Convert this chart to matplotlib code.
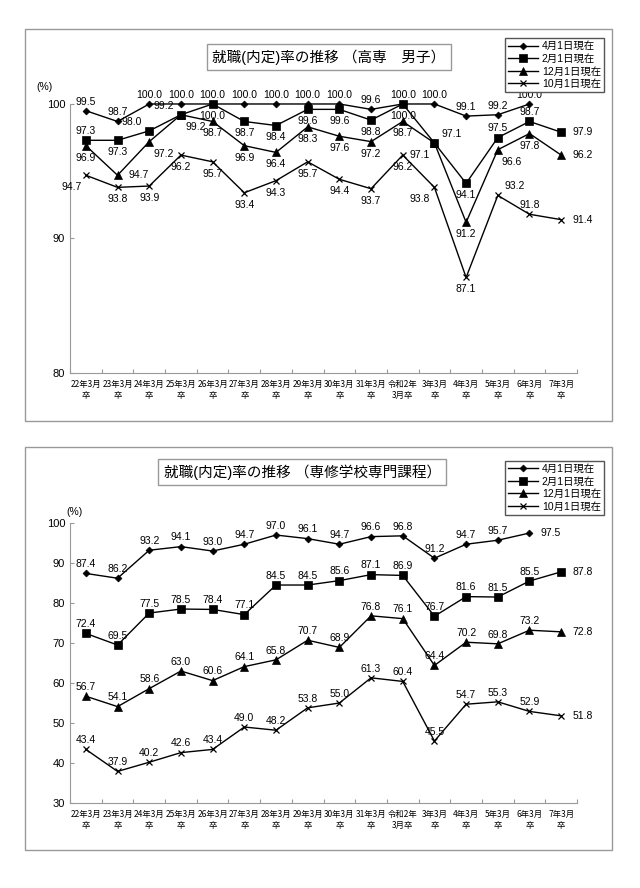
import matplotlib
matplotlib.use('Agg')
import matplotlib.pyplot as plt
from matplotlib.patches import Rectangle
import numpy as np

plt.rcParams['font.family'] = ['Liberation Sans', 'Noto Sans CJK JP', 'DejaVu Sans']

# ---- data ----
categories = ['22年3月\n卒', '23年3月\n卒', '24年3月\n卒', '25年3月\n卒', '26年3月\n卒',
              '27年3月\n卒', '28年3月\n卒', '29年3月\n卒', '30年3月\n卒', '31年3月\n卒',
              '令和2年\n3月卒', '3年3月\n卒', '4年3月\n卒', '5年3月\n卒', '6年3月\n卒', '7年3月\n卒']
series_names = ['4月1日現在', '2月1日現在', '12月1日現在', '10月1日現在']

kosen_apr = [99.5, 98.7, 100.0, 100.0, 100.0, 100.0, 100.0, 100.0, 100.0, 99.6, 100.0, 100.0, 99.1, 99.2, 100.0]
kosen_feb = [97.3, 97.3, 98.0, 99.2, 100.0, 98.7, 98.4, 99.6, 99.6, 98.8, 100.0, 97.1, 94.1, 97.5, 98.7, 97.9]
kosen_dec = [96.9, 94.7, 97.2, 99.2, 98.7, 96.9, 96.4, 98.3, 97.6, 97.2, 98.7, 97.1, 91.2, 96.6, 97.8, 96.2]
kosen_oct = [94.7, 93.8, 93.9, 96.2, 95.7, 93.4, 94.3, 95.7, 94.4, 93.7, 96.2, 93.8, 87.1, 93.2, 91.8, 91.4]

senmon_apr = [87.4, 86.2, 93.2, 94.1, 93.0, 94.7, 97.0, 96.1, 94.7, 96.6, 96.8, 91.2, 94.7, 95.7, 97.5]
senmon_feb = [72.4, 69.5, 77.5, 78.5, 78.4, 77.1, 84.5, 84.5, 85.6, 87.1, 86.9, 76.7, 81.6, 81.5, 85.5, 87.8]
senmon_dec = [56.7, 54.1, 58.6, 63.0, 60.6, 64.1, 65.8, 70.7, 68.9, 76.8, 76.1, 64.4, 70.2, 69.8, 73.2, 72.8]
senmon_oct = [43.4, 37.9, 40.2, 42.6, 43.4, 49.0, 48.2, 53.8, 55.0, 61.3, 60.4, 45.5, 54.7, 55.3, 52.9, 51.8]

# label placement codes per point (a=above, b=below, r=right, l=left, combos)
kosen_pos = [
    ['a'] * 15,
    ['a', 'b', 'al', 'al', 'b', 'b', 'b', 'b', 'b', 'b', 'b', 'ar', 'b', 'a', 'a', 'r'],
    ['b', 'r', 'br', 'br', 'b', 'b', 'b', 'b', 'b', 'b', 'b', 'bl', 'b', 'br', 'b', 'r'],
    ['bl', 'b', 'b', 'b', 'b', 'b', 'b', 'b', 'b', 'b', 'b', 'bl', 'b', 'ar', 'a', 'r'],
]
senmon_pos = [
    ['a'] * 14 + ['r'],
    ['a'] * 15 + ['r'],
    ['a'] * 15 + ['r'],
    ['a'] * 15 + ['r'],
]

markers = ['D', 's', '^', 'x']
msizes = [3.5, 6, 6, 5]

offsets = {
    'a': (0, 3, 'center', 'bottom'),
    'b': (0, -5, 'center', 'top'),
    'r': (8, 0, 'left', 'center'),
    'l': (-8, 0, 'right', 'center'),
    'al': (-5, 3, 'right', 'bottom'),
    'ar': (5, 3, 'left', 'bottom'),
    'bl': (-3, -5, 'right', 'top'),
    'br': (3, -5, 'left', 'top'),
}

fig = plt.figure(figsize=(6.4, 8.88), dpi=100)
grey = '#999999'

# outer frames
fig.add_artist(Rectangle((0.039, 0.526), 0.917, 0.441, transform=fig.transFigure,
                         fill=False, ec=grey, lw=1))
fig.add_artist(Rectangle((0.039, 0.043), 0.917, 0.454, transform=fig.transFigure,
                         fill=False, ec=grey, lw=1))


def draw(ax, data, pos, ylim, yticks):
    x = np.arange(len(categories))
    handles = []
    for vals, p, m, ms, name in zip(data, pos, markers, msizes, series_names):
        xs = x[:len(vals)]
        h, = ax.plot(xs, vals, color='black', lw=1, marker=m, markersize=ms,
                     mew=0.9 if m == 'x' else 0.5, clip_on=False, label=name)
        handles.append(h)
        for xi, v, code in zip(xs, vals, p):
            dx, dy, ha, va = offsets[code]
            ax.annotate(f'{v:.1f}', (xi, v), xytext=(dx, dy), textcoords='offset points',
                        ha=ha, va=va, fontsize=7.5)
    ax.set_xlim(-0.5, len(categories) - 0.5)
    ax.set_ylim(*ylim)
    ax.set_yticks(yticks)
    ax.tick_params('y', direction='in', length=3, labelsize=8, color=grey)
    ax.set_xticks(np.arange(-0.5, len(categories), 1))
    ax.set_xticklabels([])
    ax.tick_params('x', which='major', direction='in', length=3, color=grey)
    ax.set_xticks(x, minor=True)
    ax.set_xticklabels(categories, minor=True, fontsize=6, linespacing=1.3,
                       family=['Noto Sans CJK JP', 'DejaVu Sans'])
    ax.tick_params('x', which='minor', length=0, pad=5)
    for s in ['top', 'right']:
        ax.spines[s].set_visible(False)
    for s in ['left', 'bottom']:
        ax.spines[s].set_color(grey)
    return handles


# top chart
ax1 = fig.add_axes([0.1094, 0.580, 0.7922, 0.3029])
h1 = draw(ax1, [kosen_apr, kosen_feb, kosen_dec, kosen_oct], kosen_pos, (80, 100), [80, 90, 100])
fig.text(0.514, 0.936, '就職(内定)率の推移 （高専　男子）', ha='center', va='center', fontsize=10.5,
         bbox=dict(boxstyle='square,pad=0.35', fc='white', ec=grey, lw=1))
fig.text(0.07, 0.902, '(%)', ha='center', va='center', fontsize=7.5)
fig.legend(handles=h1, loc='upper right', bbox_to_anchor=(0.952, 0.963), fontsize=7.5,
           fancybox=False, edgecolor='#555555', framealpha=1, borderpad=0.3,
           labelspacing=0.25, handlelength=2.8, handletextpad=0.4)

# bottom chart
ax2 = fig.add_axes([0.1094, 0.0957, 0.7922, 0.3153])
h2 = draw(ax2, [senmon_apr, senmon_feb, senmon_dec, senmon_oct], senmon_pos, (30, 100),
          np.arange(30, 101, 10))
fig.text(0.472, 0.4685, '就職(内定)率の推移 （専修学校専門課程）', ha='center', va='center', fontsize=10.5,
         bbox=dict(boxstyle='square,pad=0.35', fc='white', ec=grey, lw=1))
fig.text(0.117, 0.4234, '(%)', ha='center', va='center', fontsize=7.5)
fig.legend(handles=h2, loc='upper right', bbox_to_anchor=(0.952, 0.487), fontsize=7.5,
           fancybox=False, edgecolor='#555555', framealpha=1, borderpad=0.3,
           labelspacing=0.25, handlelength=2.8, handletextpad=0.4)

plt.savefig('out.png', dpi=100)
